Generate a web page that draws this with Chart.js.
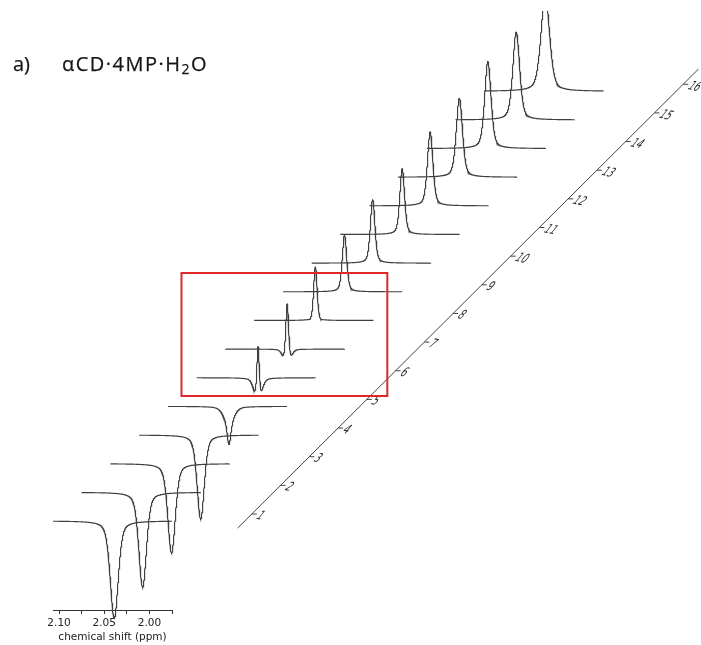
<!DOCTYPE html>
<html><head><meta charset="utf-8">
<script src="https://cdn.jsdelivr.net/npm/chart.js@4.4.0/dist/chart.umd.min.js"></script>
<style>
html,body{margin:0;padding:0;background:#fff;}
#wrap{position:relative;width:701px;height:645px;overflow:hidden;}
#c{position:absolute;left:0;top:0;}
.ttl{position:absolute;font-family:"Open Sans",sans-serif;font-size:20px;color:#151515;line-height:1;white-space:nowrap;-webkit-text-stroke:0.25px #151515;}
.ttl sub{font-size:14px;vertical-align:-3px;line-height:0;}
</style></head><body>
<div id="wrap">
<canvas id="c" width="701" height="645"></canvas>
<div class="ttl" style="left:13px;top:54px;">a)</div>
<div class="ttl" style="left:62px;top:54px;letter-spacing:1.5px;">αCD·4MP·H<sub>2</sub>O</div>
</div>
<script>
// stacked spectrum labels (diagonal axis)
const spectrumLabels = ['1','2','3','4','5','6','7','8','9','10','11','12','13','14','15','16'];
// main peak: chemical shift (ppm), height (a.u., negative = inverted), half width (ppm)
const peakShift  = [2.0389, 2.0393, 2.0391, 2.0387, 2.0392, 2.0389, 2.0385, 2.0391, 2.0387, 2.0394, 2.0385, 2.0394, 2.0389, 2.0392, 2.0396, 2.0393];
const peakHeight = [-97.5, -95, -89.5, -84, -20, 61, 69, 62, 57, 64, 66, 74, 79, 87, 88, 96];
const peakWidth  = [0.0052, 0.0050, 0.0049, 0.0047, 0.0022, 0.0017, 0.0020, 0.0024, 0.0029, 0.0030, 0.0031, 0.0036, 0.0041, 0.0042, 0.0045, 0.0057];
// broad inverted component underneath (spectra 5-8)
const broadHeight = [0, 0, 0, 0, -18, -30, -24, -8, 0, 0, 0, 0, 0, 0, 0, 0];
const broadWidth  = [0.0045, 0.0045, 0.0045, 0.0045, 0.0062, 0.0046, 0.0045, 0.0045, 0.0045, 0.0045, 0.0045, 0.0045, 0.0045, 0.0045, 0.0045, 0.0045];
// spectral window and labelled ticks
const shiftMax = 2.1067, shiftMin = 1.975;
const shiftTickLabels = [2.10, 2.05, 2.00];
const shiftTickStep = 0.025;

// stacking offsets (layout)
const STEP_PPM = 0.03183, STEP_Y = 28.65;
const AXIS_PPM = 1.8867, AXIS_Y = 7;
const BOX = {ppmL: 1.9645, ppmR: 1.7367, yLo: 125, yHi: 248};
const ETA = 0.42;

function shape(d, w){ const r = d / w; return ETA / (1 + r * r) + (1 - ETA) * Math.exp(-Math.LN2 * r * r); }

const N = 800;
const datasets = spectrumLabels.map((lab, i) => {
  const pts = [];
  for (let j = 0; j <= N; j++) {
    const ppm = shiftMax - j * (shiftMax - shiftMin) / N;
    const v = peakHeight[i] * shape(ppm - peakShift[i], peakWidth[i]) + broadHeight[i] * shape(ppm - peakShift[i], broadWidth[i]);
    pts.push({x: ppm - i * STEP_PPM, y: v + i * STEP_Y});
  }
  return {label: lab, data: pts, borderColor: '#3f3f3f', borderWidth: 1.15, pointRadius: 0, tension: 0,
          fill: false, clip: {left: false, right: false, top: 0, bottom: false}};
});

const overlay = {
  id: 'overlay',
  afterDatasetsDraw(chart) {
    const ctx = chart.ctx, xs = chart.scales.x, ys = chart.scales.y;
    const px = (p, k) => xs.getPixelForValue(p - k * STEP_PPM);
    const py = (v, k) => ys.getPixelForValue(v + k * STEP_Y);
    ctx.save();
    // diagonal stacking axis
    ctx.strokeStyle = '#444'; ctx.lineWidth = 1;
    ctx.beginPath();
    ctx.moveTo(px(AXIS_PPM, -0.49), py(AXIS_Y, -0.49));
    ctx.lineTo(px(AXIS_PPM, 15.53), py(AXIS_Y, 15.53));
    ctx.stroke();
    ctx.fillStyle = '#2a2a2a';
    ctx.font = 'italic 12px "DejaVu Sans"';
    ctx.textBaseline = 'middle'; ctx.textAlign = 'left';
    spectrumLabels.forEach((lab, k) => {
      const x0 = px(AXIS_PPM, k), y0 = py(AXIS_Y, k);
      ctx.beginPath(); ctx.moveTo(x0, y0); ctx.lineTo(x0 + 5, y0); ctx.stroke();
      ctx.save();
      ctx.translate(x0 + 6, y0 + 1.5);
      ctx.transform(0.7, 0.15, -0.65, 1, 0, 0);
      ctx.fillText(lab, 0, 0);
      ctx.restore();
    });
    // highlight box
    ctx.strokeStyle = '#e0262b'; ctx.lineWidth = 2;
    const l = px(BOX.ppmL, 0), r = px(BOX.ppmR, 0), t = py(BOX.yHi, 0), b = py(BOX.yLo, 0);
    ctx.strokeRect(l, t, r - l, b - t);
    ctx.restore();
  }
};

new Chart(document.getElementById('c'), {
  type: 'line',
  data: {datasets},
  plugins: [overlay],
  options: {
    responsive: false, animation: false, devicePixelRatio: 1,
    layout: {padding: {left: 53, right: 529, top: 11, bottom: 0}},
    plugins: {legend: {display: false}, tooltip: {enabled: false}, title: {display: false}},
    scales: {
      x: {
        type: 'linear', min: shiftMin, max: shiftMax, reverse: true,
        afterFit(s) { s.height = 35; },
        border: {display: true, color: '#333', width: 1},
        grid: {drawOnChartArea: false, drawTicks: true, tickLength: 4, color: '#333'},
        ticks: {
          stepSize: shiftTickStep, includeBounds: false, autoSkip: false, maxRotation: 0, minRotation: 0,
          padding: 3, color: '#222', font: {family: '"DejaVu Sans"', size: 10.5},
          callback: (v) => shiftTickLabels.some(t => Math.abs(t - v) < 1e-6) ? Number(v).toFixed(2) : ''
        },
        title: {display: true, text: 'chemical shift (ppm)', color: '#222',
                font: {family: '"DejaVu Sans"', size: 10.5, lineHeight: 1.2}, padding: {top: 0, bottom: 1}}
      },
      y: {type: 'linear', display: false, min: -89, max: 510}
    }
  }
});
</script>
</body></html>
